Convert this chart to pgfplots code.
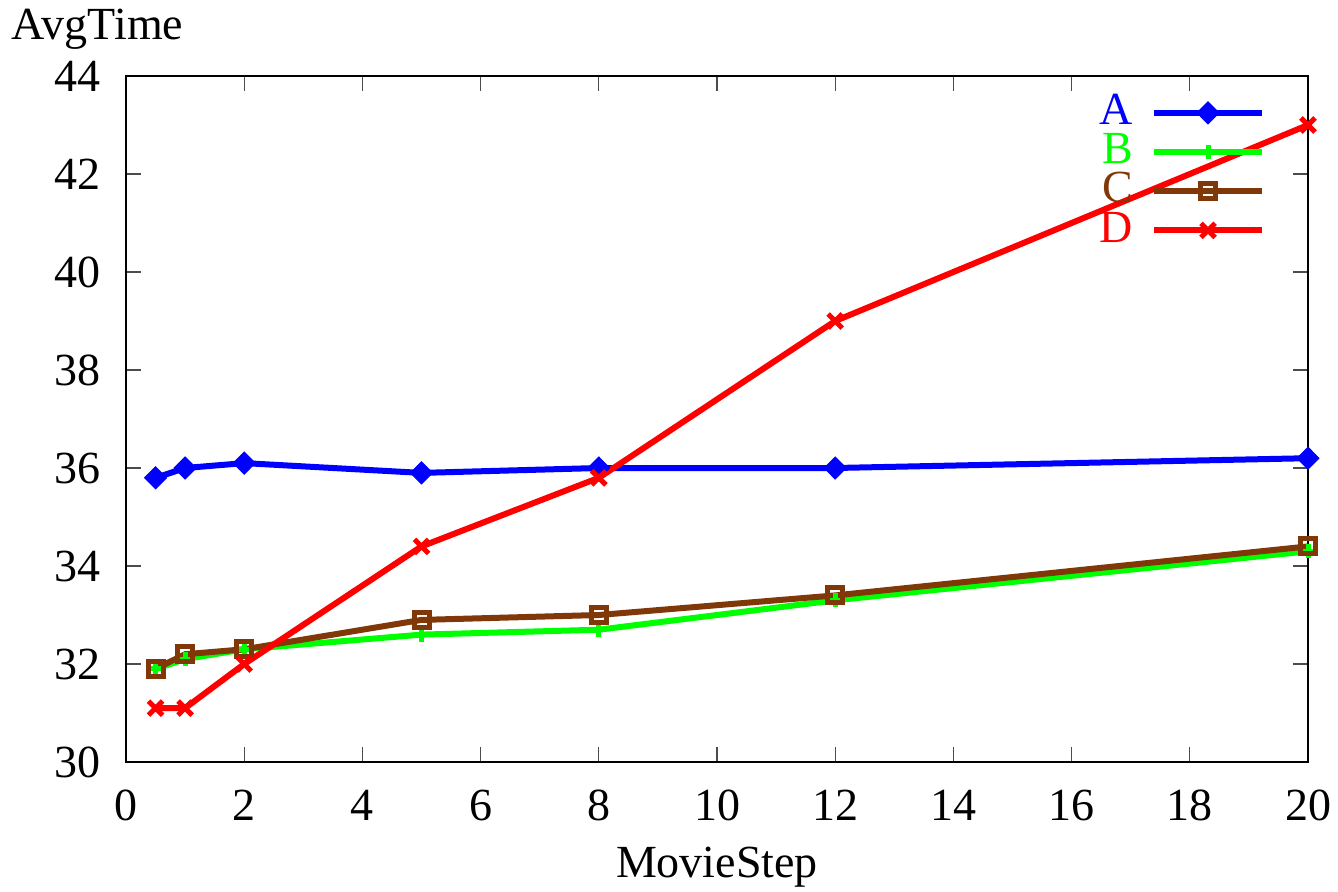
\documentclass[border=0pt]{standalone}
\usepackage{fontspec}
\setmainfont{Liberation Serif}
\usepackage{pgfplots}
\pgfplotsset{compat=1.18}
\definecolor{cA}{RGB}{0,0,255}
\definecolor{cB}{RGB}{0,255,0}
\definecolor{cC}{RGB}{128,56,8}
\definecolor{cD}{RGB}{255,0,0}
\newcommand\fs{\fontsize{23}{28}\selectfont\rmfamily}
\begin{document}
\fs
\begin{tikzpicture}
\begin{axis}[
  scale only axis,
  width=591pt, height=343pt,
  xmin=0, xmax=20, ymin=30, ymax=44,
  xtick={0,2,4,6,8,10,12,14,16,18,20},
  xticklabels={0,2,4,6,8,10,12,14,16,18,20},
  ytick={30,32,34,36,38,40,42,44},
  yticklabels={30,32,34,36,38,40,42,44},
  tick align=inside,
  major tick length=7.5pt,
  tick style={black!70, line width=0.6pt},
  axis line style={black, line width=0.8pt},
  tick label style={font=\fs},
  xticklabel style={yshift=-6pt},
  yticklabel style={xshift=-5pt},
  xlabel={MovieStep},
  ylabel={AvgTime},
  every axis x label/.style={at={(axis description cs:0.5,-0.169)}, anchor=base, font=\fs},
  every axis y label/.style={at={(axis description cs:-0.024,1.0525)}, anchor=base, font=\fs},
  legend plot pos=right,
  legend cell align=right,
  legend style={draw=none, fill=none, at={(axis description cs:0.964,0.974)}, anchor=north east,
    font=\fs, row sep=1pt, column sep=9pt, inner sep=0pt,
    nodes={inner sep=0pt}},
  legend image code/.code={\draw[mark repeat=2, mark phase=2] plot coordinates {(0pt,0pt) (27pt,0pt) (54pt,0pt)};},
]
\addplot[cA, line width=3pt, mark=diamond*, mark size=5.5pt, mark options={solid, xscale=1.33, line width=0.5pt}]
  coordinates {(0.5,35.8) (1,36.0) (2,36.1) (5,35.9) (8,36.0) (12,36.0) (20,36.2)};
\addlegendentry{\textcolor{cA}{A}}
\addplot[cB, line width=3pt, mark=+, mark size=3.5pt, mark options={solid, line width=2.5pt}]
  coordinates {(0.5,31.9) (1,32.1) (2,32.3) (5,32.6) (8,32.7) (12,33.3) (20,34.3)};
\addlegendentry{\textcolor{cB}{B}}
\addplot[cC, line width=3pt, mark=square, mark size=3.75pt, mark options={solid, line width=2.5pt}]
  coordinates {(0.5,31.9) (1,32.2) (2,32.3) (5,32.9) (8,33.0) (12,33.4) (20,34.4)};
\addlegendentry{\textcolor{cC}{C}}
\addplot[cD, line width=3pt, mark=x, mark size=5pt, mark options={solid, line width=2.5pt}]
  coordinates {(0.5,31.1) (1,31.1) (2,32.0) (5,34.4) (8,35.8) (12,39.0) (20,43.0)};
\addlegendentry{\textcolor{cD}{D}}
\end{axis}
\pgfresetboundingbox
\useasboundingbox (-63pt,-64.5pt) rectangle (606pt,381pt);
\end{tikzpicture}
\end{document}
